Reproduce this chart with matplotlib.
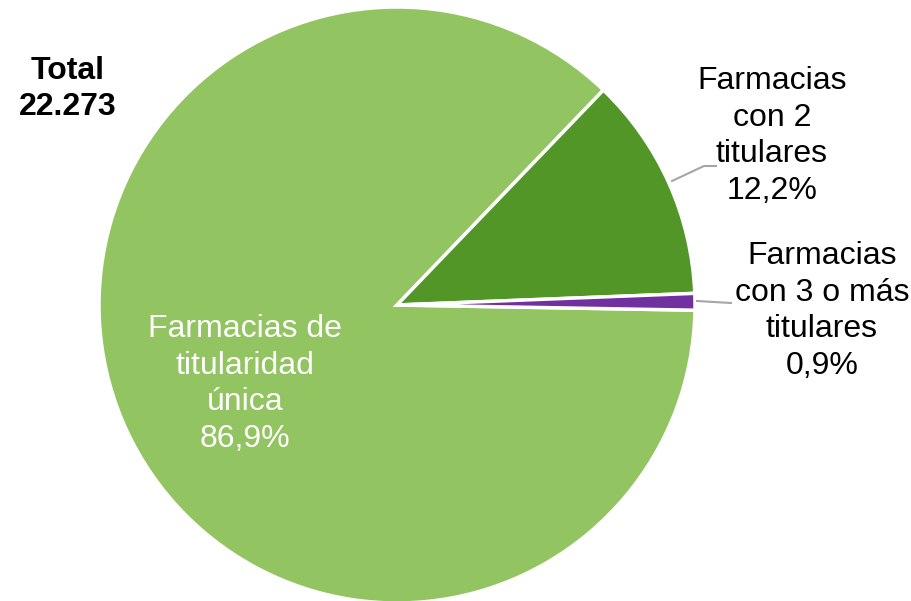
import matplotlib
matplotlib.use("Agg")
import matplotlib.pyplot as plt

categories = ["Farmacias de\ntitularidad\núnica",
              "Farmacias\ncon 2\ntitulares",
              "Farmacias\ncon 3 o más\ntitulares"]
shares = [86.9, 12.2, 0.9]
total_label = "Total\n22.273"

colors = ["#93C462", "#529628", "#7030A0"]

W, H = 912, 601
fig = plt.figure(figsize=(W / 100, H / 100), dpi=100)
ax = fig.add_axes([0, 0, 1, 1])
ax.set_xlim(0, W)
ax.set_ylim(0, H)
ax.set_aspect("equal")
ax.axis("off")

cx, cy, r = 397, H - 305, 298
ax.pie(shares, colors=colors, startangle=-1.0, counterclock=False,
       center=(cx, cy), radius=r,
       wedgeprops=dict(edgecolor="white", linewidth=2.5))
ax.set_xlim(0, W)
ax.set_ylim(0, H)

font = ["Liberation Sans", "DejaVu Sans"]
fs = 23
ls = 1.28

def pct(v):
    return f"{v:.1f}%".replace(".", ",")

# inner label
ax.text(245, H - 384, f"{categories[0]}\n{pct(shares[0])}", color="white",
        ha="center", va="center", fontsize=fs, family=font, linespacing=ls)

# outer labels with leader lines
ax.text(772, H - 136, f"{categories[1]}\n{pct(shares[1])}", color="black",
        ha="center", va="center", fontsize=fs, family=font, linespacing=ls)
ax.plot([672, 704, 716], [H - 181, H - 166, H - 166], color="#A6A6A6", lw=1.5)

ax.text(822, H - 311, f"{categories[2]}\n{pct(shares[2])}", color="black",
        ha="center", va="center", fontsize=fs, family=font, linespacing=ls)
ax.plot([697, 731], [H - 301, H - 303], color="#A6A6A6", lw=1.5)

ax.text(68, H - 89, total_label, color="black", fontweight="bold",
        ha="center", va="center", fontsize=fs, family=font, linespacing=ls)

fig.savefig("out.png", dpi=100)
